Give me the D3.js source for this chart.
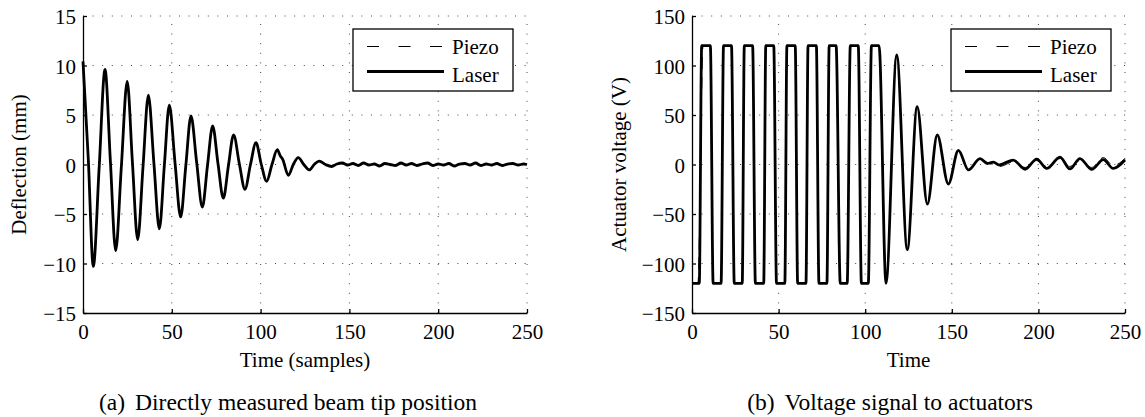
<!DOCTYPE html>
<html>
<head>
<meta charset="utf-8">
<script src="https://cdn.jsdelivr.net/npm/d3@7"></script>
<style>
  body { margin: 0; background: #fff; }
</style>
</head>
<body>
<svg id="chart" width="1145" height="417"></svg>
<script>
// ---- data ----
// (a) beam tip deflection in mm
const defT = [0, 3, 5.8, 9.1, 12.4, 15.4, 18.4, 21.6, 24.9, 27.8, 30.8, 33.8, 36.8, 39.9, 43, 45.8, 48.6, 51.8, 55, 57.9,
  60.8, 64, 67.2, 70.1, 73, 76, 79, 81.9, 84.8, 88, 91.2, 94.3, 97.4, 100.4, 103.4, 106.4, 109.4, 111, 112.5, 115.6,
  118.4, 121.2, 124.3, 127.4, 130.2, 133, 136.5, 140, 143, 146, 149, 152, 155, 158, 161, 164, 167, 170, 173, 176,
  179, 182, 185, 188, 191, 194, 197, 200, 203, 206, 209, 212, 215, 218, 221, 224, 227, 230, 233, 236, 239, 242,
  245, 248, 250];
const laserA = [10.4, 0.5, -10.3, -0.3, 9.6, 0.4, -8.7, -0.2, 8.4, 0.3, -7.6, -0.2, 7.0, 0.2, -6.5, -0.1, 6.0, 0.2, -5.3, -0.1,
  4.9, 0.2, -4.3, -0.1, 3.9, 0.1, -3.4, -0.1, 3.0, 0.1, -2.5, 0, 2.2, 0, -1.7, 0, 1.5, 0.9, 0.5, -1.1,
  0, 0.7, 0, -0.55, 0, 0.35, 0, -0.2, 0.05, 0.15, -0.05, 0.1, -0.1, 0.15, -0.05, 0.05, -0.15, 0.1, 0, -0.1,
  0.15, -0.05, 0.1, -0.1, 0.05, 0.15, -0.1, 0.05, -0.05, 0.1, -0.15, 0.05, 0.1, -0.05, 0.15, -0.1, 0.05, -0.05, 0.1, -0.1, 0.05, 0.1,
  -0.05, 0.05, 0];
const piezoA = laserA;

// (b) actuator voltage in V
const voltT = [0, 4.2, 5.6, 10.6, 12.2, 16.8, 18.2, 22.8, 24.4, 29.0, 30.2, 35.0, 36.6, 41.4, 42.6, 47.2, 48.8, 53.6, 54.8, 59.6,
  61.0, 65.8, 67.0, 71.8, 73.3, 77.9, 79.2, 83.2, 85.6, 89.6, 91.4, 96.0, 97.8, 101.8, 103.6, 108.0, 112.0, 118.2, 124.3, 130.0,
  135.9, 141.6, 148.0, 153.8, 159.6, 166.3, 170.5, 174.0, 177.5, 180.0, 185.5, 192.3, 199.0, 204.8, 212.5, 218.2, 224.0, 230.8, 237.5, 243.2,
  250];
const laserB = [-120, -120, 120, 120, -120, -120, 120, 120, -120, -120, 120, 120, -120, -120, 120, 120, -120, -120, 120, 120,
  -120, -120, 120, 120, -120, -120, 120, 120, -120, -120, 120, 120, -120, -120, 120, 120, -120, 110.6, -86, 58.4,
  -40, 29.8, -19.7, 14.3, -5.5, 6, 1, 2.5, -0.5, 1, 4.5, -4.8, 5.5, -4, 7.5, -4.5, 6, -5, 5, -4,
  4.5];
const piezoBT = [0, 3.4, 6.4, 10.6, 12.2, 16.8, 18.2, 22.8, 24.4, 29.0, 30.2, 35.0, 36.6, 41.4, 42.6, 47.2, 48.8, 53.6, 54.8, 59.6,
  61.0, 65.8, 67.0, 71.8, 73.3, 77.9, 79.2, 83.2, 85.6, 89.6, 91.4, 96.0, 97.8, 101.8, 103.6, 108.0, 112.0, 118.2, 124.3, 130.0,
  135.9, 141.6, 148.0, 153.8, 159.6, 166.3, 170.5, 174.0, 177.5, 180.0, 185.5, 192.3, 199.0, 204.8, 212.5, 218.2, 224.0, 230.8, 237.5, 243.2,
  250];
const piezoB = [-120, -120, 120, 120, -120, -120, 120, 120, -120, -120, 120, 120, -120, -120, 120, 120, -120, -120, 120, 120,
  -120, -120, 120, 120, -120, -120, 120, 120, -120, -120, 120, 120, -120, -120, 120, 120, -120, 110.6, -86, 58.4,
  -40, 29.8, -19.7, 14.3, -5.5, 6, 2, 0, -2, -1, 3, -3, 4, -2, 6, -2, 4, -3, 7, -1,
  6];

const xTicks = [0, 50, 100, 150, 200, 250];
const yTicksA = [-15, -10, -5, 0, 5, 10, 15];
const yTicksB = [-150, -100, -50, 0, 50, 100, 150];
const legendNames = ["Piezo", "Laser"];

const svg = d3.select("#chart");
const fontSize = 21;

function setFont(sel, size) {
  return sel.attr("font-family", "Liberation Serif")
    .style("font-family", "'Liberation Serif'")
    .attr("font-size", size || fontSize)
    .attr("fill", "#000");
}

function panel(opts) {
  const x = d3.scaleLinear().domain([0, 250]).range([opts.left, opts.right]);
  const y = d3.scaleLinear().domain(opts.yDomain).range([313, 16]);
  const g = svg.append("g");

  // dotted grid
  g.selectAll(".gx").data(xTicks.slice(1)).enter().append("line")
    .attr("x1", d => x(d)).attr("x2", d => x(d))
    .attr("y1", y.range()[0]).attr("y2", y.range()[1])
    .attr("stroke", "#444").attr("stroke-width", 1).attr("stroke-dasharray", "1,8.6");
  g.selectAll(".gy").data(opts.yTicks.slice(1)).enter().append("line")
    .attr("x1", x.range()[0]).attr("x2", x.range()[1])
    .attr("y1", d => y(d)).attr("y2", d => y(d))
    .attr("stroke", "#444").attr("stroke-width", 1).attr("stroke-dasharray", "1,8.6");

  // axes, ticks inward
  const xAxis = g.append("g").attr("transform", `translate(0,${y.range()[0]})`)
    .call(d3.axisBottom(x).tickValues(xTicks).tickSizeInner(-4).tickSizeOuter(0).tickPadding(6));
  xAxis.selectAll("text").attr("dy", null).attr("y", 26);
  const yAxis = g.append("g").attr("transform", `translate(${x.range()[0]},0)`)
    .call(d3.axisLeft(y).tickValues(opts.yTicks).tickSizeInner(-4).tickSizeOuter(0).tickPadding(7));
  yAxis.selectAll("text").attr("dy", "0.38em");
  setFont(xAxis);
  setFont(yAxis);
  g.selectAll(".domain, .tick line").attr("stroke", "#000").attr("stroke-width", 1.3);
  setFont(g.selectAll(".tick text"));

  // lines
  const line = d3.line().curve(d3.curveMonotoneX);
  const pts = (ts, vals) => ts.map((t, i) => [x(t), y(vals[i])]);
  g.append("path").attr("d", line(pts(opts.t, opts.laser)))
    .attr("fill", "none").attr("stroke", "#000").attr("stroke-width", 2.8).attr("stroke-linejoin", "round");
  g.append("path").attr("d", line(pts(opts.pt, opts.piezo)))
    .attr("fill", "none").attr("stroke", "#000").attr("stroke-width", 1).attr("stroke-dasharray", "12,8");

  // legend
  const lg = g.append("g").attr("transform", `translate(${opts.legendX},29)`);
  lg.append("rect").attr("width", 160).attr("height", 62)
    .attr("fill", "#fff").attr("stroke", "#000").attr("stroke-width", 1.3);
  lg.append("line").attr("x1", 14).attr("x2", 91).attr("y1", 17.5).attr("y2", 17.5)
    .attr("stroke", "#000").attr("stroke-width", 1).attr("stroke-dasharray", "12,19.5");
  lg.append("line").attr("x1", 14).attr("x2", 91).attr("y1", 42.5).attr("y2", 42.5)
    .attr("stroke", "#000").attr("stroke-width", 2.8);
  setFont(lg.selectAll("text").data(legendNames).enter().append("text")
    .attr("x", 99).attr("y", (d, i) => 25 + i * 27.5)).text(d => d);

  // axis labels and caption
  setFont(svg.append("text").attr("transform", `translate(${opts.ylabelX},164.5) rotate(-90)`)
    .attr("text-anchor", "middle")).text(opts.ylabel);
  setFont(svg.append("text").attr("x", (opts.left + opts.right) / 2).attr("y", 366.5)
    .attr("text-anchor", "middle")).text(opts.xlabel);
  const cap = setFont(svg.append("text").attr("x", opts.capX).attr("y", 410)
    .attr("text-anchor", "middle"), 23.5);
  cap.append("tspan").text(opts.capLabel);
  cap.append("tspan").attr("dx", 10).text(opts.caption);
}

panel({
  left: 83, right: 527, yDomain: [-15, 15], yTicks: yTicksA,
  t: defT, laser: laserA, pt: defT, piezo: piezoA, legendX: 353,
  ylabel: "Deflection (mm)", ylabelX: 26, xlabel: "Time (samples)",
  capX: 288, capLabel: "(a)", caption: "Directly measured beam tip position"
});
panel({
  left: 692, right: 1125, yDomain: [-150, 150], yTicks: yTicksB,
  t: voltT, laser: laserB, pt: piezoBT, piezo: piezoB, legendX: 951,
  ylabel: "Actuator voltage (V)", ylabelX: 626, xlabel: "Time",
  capX: 890, capLabel: "(b)", caption: "Voltage signal to actuators"
});
</script>
</body>
</html>
